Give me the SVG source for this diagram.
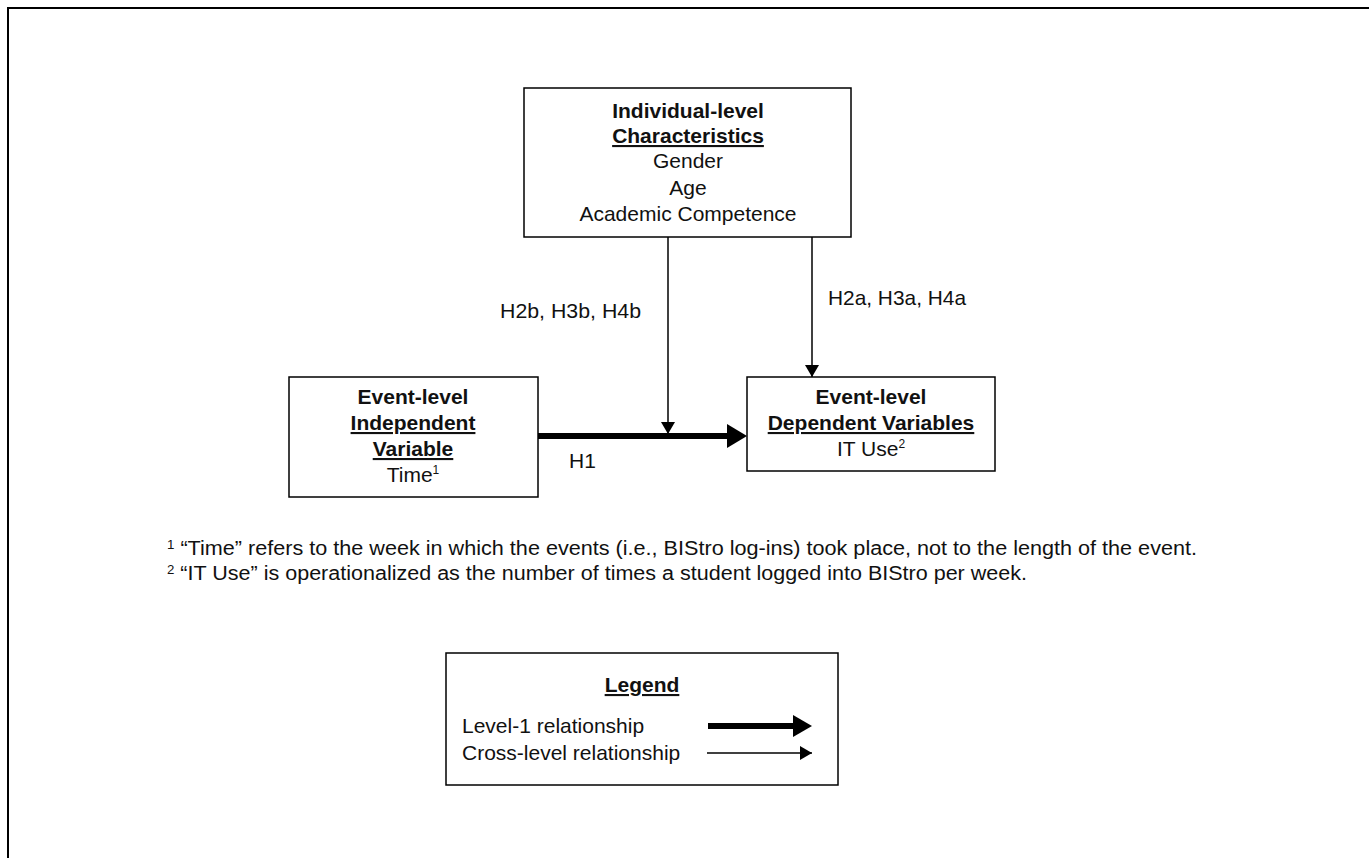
<svg xmlns="http://www.w3.org/2000/svg" width="1369" height="858" viewBox="0 0 1369 858">
<defs>
<style>
.box{fill:#fff;stroke:#000;stroke-width:1.5}
.t{font-family:"Liberation Sans",Arial,sans-serif;font-size:21px;fill:#111;text-anchor:middle}
.b{font-weight:bold}
.u{text-decoration:underline}
.l{font-family:"Liberation Sans",Arial,sans-serif;font-size:21px;fill:#111}
.f{font-family:"Liberation Sans",Arial,sans-serif;font-size:19.5px;fill:#111}
.sup{font-size:12px}
.thin{stroke:#000;stroke-width:1.5;fill:none}
.thick{stroke:#000;stroke-width:6;fill:none}
.head{fill:#000}
</style>
<marker id="ah" markerWidth="12" markerHeight="14" refX="12" refY="7" orient="auto" markerUnits="userSpaceOnUse">
<path d="M0,0 L12,7 L0,14 Z" fill="#000"/>
</marker>
</defs>
<rect x="8" y="8" width="1380" height="880" fill="#fff" stroke="#000" stroke-width="2"/>

<g id="connectors">
<line class="thick" x1="538" y1="436" x2="729" y2="436"/>
<polygon class="head" points="727,424 747,436 727,448"/>
<line class="thin" x1="668" y1="237" x2="668" y2="434" marker-end="url(#ah)"/>
<line class="thin" x1="812" y1="237" x2="812" y2="377" marker-end="url(#ah)"/>
<text class="l" x="500" y="318" textLength="141" lengthAdjust="spacingAndGlyphs">H2b, H3b, H4b</text>
<text class="l" x="828" y="305" textLength="138" lengthAdjust="spacingAndGlyphs">H2a, H3a, H4a</text>
<text class="l" x="569" y="468">H1</text>
</g>

<g id="node-individual">
<rect class="box" x="524" y="88" width="327" height="149"/>
<text class="t b" x="688" y="118">Individual-level</text>
<text class="t b u" x="688" y="143">Characteristics</text>
<text class="t" x="688" y="168">Gender</text>
<text class="t" x="688" y="195">Age</text>
<text class="t" x="688" y="221">Academic Competence</text>
</g>

<g id="node-independent">
<rect class="box" x="289" y="377" width="249" height="120"/>
<text class="t b" x="413" y="404">Event-level</text>
<text class="t b u" x="413" y="430">Independent</text>
<text class="t b u" x="413" y="456">Variable</text>
<text class="t" x="413" y="482">Time<tspan class="sup" dy="-8">1</tspan></text>
</g>

<g id="node-dependent">
<rect class="box" x="747" y="377" width="248" height="94"/>
<text class="t b" x="871" y="404">Event-level</text>
<text class="t b u" x="871" y="430">Dependent Variables</text>
<text class="t" x="871" y="456">IT Use<tspan class="sup" dy="-8">2</tspan></text>
</g>

<g id="footnotes">
<text class="f" x="167" y="555" textLength="1030" lengthAdjust="spacingAndGlyphs"><tspan class="sup" dy="-6">1</tspan><tspan dy="6"> “Time”  refers to the week in which the events (i.e., BIStro log-ins) took place, not to the length of the event.</tspan></text>
<text class="f" x="167" y="580" textLength="860" lengthAdjust="spacingAndGlyphs"><tspan class="sup" dy="-6">2</tspan><tspan dy="6"> “IT  Use” is operationalized as the number of times a student logged into BIStro per week.</tspan></text>
</g>

<g id="legend">
<rect class="box" x="446" y="653" width="392" height="132"/>
<text class="t b u" x="642" y="692">Legend</text>
<text class="l" x="462" y="733">Level-1 relationship</text>
<text class="l" x="462" y="760">Cross-level relationship</text>
<line class="thick" x1="708" y1="726" x2="795" y2="726"/>
<polygon class="head" points="793,715 812,726 793,737"/>
<line class="thin" x1="707" y1="753" x2="812" y2="753" marker-end="url(#ah)"/>
</g>
</svg>
